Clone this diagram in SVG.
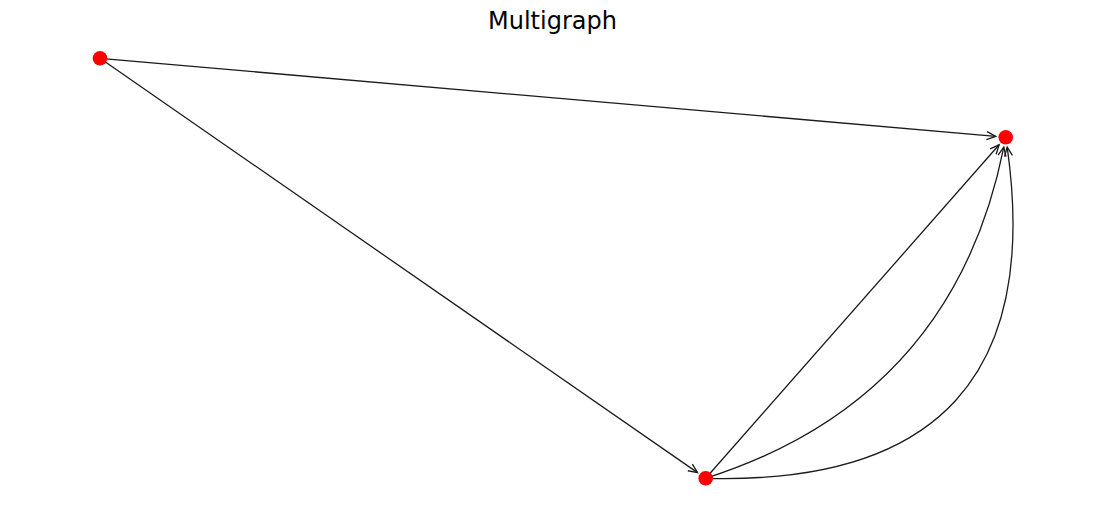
<svg xmlns="http://www.w3.org/2000/svg" width="1105" height="509" viewBox="0 0 1105 509">
  <style>
    .edge { fill: none; stroke: #1a1a1a; stroke-width: 1.3; marker-end: url(#arrow); }
    .node { fill: #ff0000; }
    .title { font-family: "DejaVu Sans", sans-serif; font-size: 24px; fill: #000; }
  </style>
  <defs>
    <marker id="arrow" markerUnits="userSpaceOnUse" viewBox="-11 -6 13 12" refX="0" refY="0" markerWidth="13" markerHeight="12" orient="auto" overflow="visible">
      <path d="M-9,-4 L0,0 L-9,4" fill="none" stroke="#1a1a1a" stroke-width="1.3"/>
    </marker>
  </defs>
  <rect width="1105" height="509" fill="#ffffff"/>
  <text class="title" x="552.5" y="28.5" text-anchor="middle">Multigraph</text>
  <g id="edges">
    <path class="edge" d="M100,58.3 L995.7,136.4"/>
    <path class="edge" d="M100,58.3 L697.5,472.6"/>
    <path class="edge" d="M705.7,478.3 L999.1,144.8"/>
    <path class="edge" d="M705.7,478.3 Q953.2,399.3 1003.8,147.1"/>
    <path class="edge" d="M705.7,478.3 Q1055.3,487.7 1007.2,147.1"/>
  </g>
  <g id="node-0"><circle class="node" cx="100" cy="58.3" r="7.3"/></g>
  <g id="node-1"><circle class="node" cx="1005.7" cy="137.3" r="7.3"/></g>
  <g id="node-2"><circle class="node" cx="705.7" cy="478.3" r="7.3"/></g>
</svg>
